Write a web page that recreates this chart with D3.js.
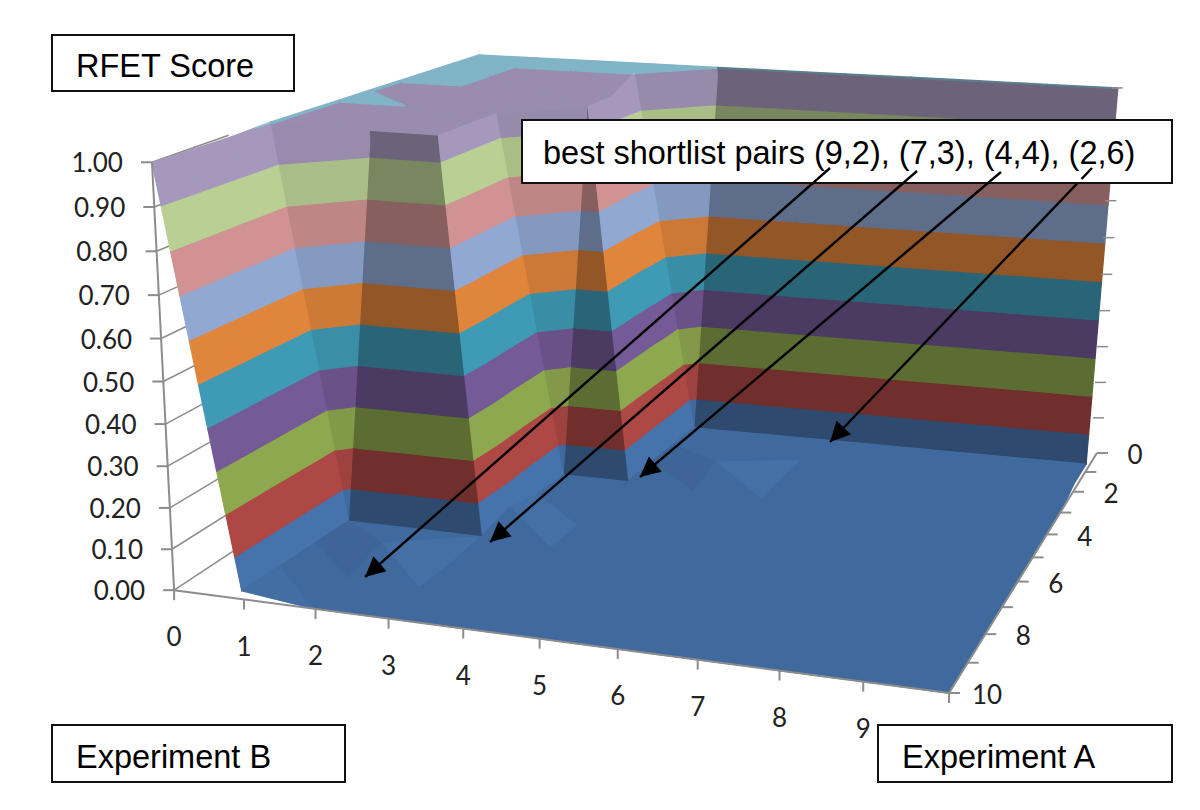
<!DOCTYPE html>
<html><head><meta charset="utf-8">
<script src="https://cdn.jsdelivr.net/npm/d3@7"></script>
<style>html,body{margin:0;padding:0;background:#fff}svg{display:block}</style>
</head><body><svg id="c" width="1200" height="810"></svg>
<script>
// ---------- data: RFET score, rows = Experiment A (0..10), columns = Experiment B (0..10)
const expB = [0,1,2,3,4,5,6,7,8,9,10];
const expA = [0,1,2,3,4,5,6,7,8,9,10];
const scores = [
 [1,1,1,1,1,1,1,1,1,1,1],
 [1,1,1,1,.02,.02,.02,.02,.02,.02,.02],
 [1,1,.96,.96,.02,.01,.01,.01,.01,.01,.02],
 [1,1,.96,.96,.02,.04,.01,.01,.01,.01,0],
 [1,.96,.96,.02,.02,.01,.01,.01,.01,.01,0],
 [1,1,.96,.02,.01,.01,.01,.01,.01,.01,0],
 [1,.96,.96,.04,.01,.01,.01,.01,.01,.01,0],
 [1,.02,.02,.02,.01,.01,.01,.01,.01,.01,0],
 [.995,.02,.04,.01,.01,.01,.01,.01,.01,.01,0],
 [.995,.02,.01,.01,.01,.01,.01,.01,.01,.01,0],
 [.995,.02,0,0,0,0,0,0,0,0,0]
];
const zTicks = [0,.1,.2,.3,.4,.5,.6,.7,.8,.9,1];
const bLabels = [0,1,2,3,4,5,6,7,8,9];
const aLabels = [0,2,4,6,8,10];
const bandEdges = [.1,.2,.3,.4,.5,.6,.7,.8,.9,.998];
const bandColors = ["#4673ab","#ad4845","#8da84f","#745a96","#3f9bb5","#e0853c","#90a8d2","#d09292","#b9cf94","#a698bd","#8bc4d7"];
const flipCells = [[2,7],[5,2]];
const boxes = [
 {t:"RFET Score",x:52,y:35,w:242,h:56,tx:76,ty:3},
 {t:"Experiment B",x:52,y:725,w:293,h:57,tx:76,ty:3},
 {t:"Experiment A",x:878,y:725,w:294,h:57,tx:902,ty:3},
 {t:"best shortlist pairs (9,2), (7,3), (4,4), (2,6)",x:522,y:120,w:650,h:63,tx:543,ty:1}
];
const arrows = [[830,168,365,577],[917,171,490,542],[1001,172,640,477],[1092,168,830,442]];

// ---------- cameras: one for the axes frame, one fitted to the surface
const uS = d3.scaleLinear().domain([0,10]).range([0,1]);
const vS = d3.scaleLinear().domain([0,10]).range([0,1]);
const zS = d3.scaleLinear().domain([0,1]).range([0,1]);
function axisProj(b,a,z){
  const u=uS(b),v=vS(a),t=zS(z),W=1.42-.12*u-.3*v-.054*t;
  return [(672+754*u-477*v-33*t)/W,(557+32*u+104*v-488*t)/W];
}
const w=(b,a,z)=>1.49-.15*uS(b)-.34*vS(a)-.055*zS(z);
function proj(b,a,z){
  const u=uS(b),v=vS(a),t=zS(z),W=w(b,a,z);
  return [(721+749*u-521*v-33.6*t)/W,
          (592.5+14.5*u+86*v+t*(-513.6+19.6*u+10.6*v))/W];
}
const svg=d3.select("#c");
const AX="#8c8c8c", FONT="Lato, 'Open Sans', sans-serif", BOXF="'Liberation Sans', Arial, sans-serif";
const line=d3.line();

// ---------- grid stubs behind the surface
const stub=zTicks.map(z=>[axisProj(0,10,z),axisProj(0,8,z)]);
svg.append("g").selectAll("path.grid").data(stub).join("path").attr("class","grid")
  .attr("d",d=>line(d)).attr("stroke",AX).attr("stroke-width",1.5).attr("fill","none");

// ---------- surface
function plane(t){
  const [p,q,r]=t;
  const a1=q[0]-p[0],b1=q[1]-p[1],c1=q[2]-p[2],a2=r[0]-p[0],b2=r[1]-p[1],c2=r[2]-p[2];
  const d=a1*b2-a2*b1;
  return [(c1*b2-c2*b1)/d,(a1*c2-a2*c1)/d];
}
function shade(t){
  const [db,da]=plane(t), mag=Math.hypot(db,da);
  const lit=mag>.1?Math.min(1,mag/.3):0;
  const frac=Math.max(0,-da)/(Math.abs(da)+Math.abs(db)+1e-6);
  const low=d3.max(t,p=>p[2])<.2;
  const bump=low&&Math.abs(db)>.015?Math.max(-.05,Math.min(.05,-db*2)):0;
  return (1-lit)*(.92+bump)+lit*(1-.35*frac*frac);
}
function clip(poly,lim,keepAbove){
  const out=[];
  const inside=p=>keepAbove?p[2]>=lim:p[2]<=lim;
  poly.forEach((p,i)=>{
    const q=poly[(i+1)%poly.length];
    if(inside(p))out.push(p);
    if(inside(p)!==inside(q)){
      const k=(lim-p[2])/(q[2]-p[2]);
      out.push([p[0]+k*(q[0]-p[0]),p[1]+k*(q[1]-p[1]),lim]);
    }
  });
  return out;
}
const tris=[];
const Z=(b,a)=>[b,a,scores[a][b]];
const isFlip=(b,a)=>{
  if(flipCells.some(c=>c[0]===b&&c[1]===a))return true;
  return scores[a+1][b+1]<.5&&scores[a][b]>.5&&scores[a][b+1]>.5&&scores[a+1][b]>.5;
};
expA.slice(0,-1).forEach(a=>expB.slice(0,-1).forEach(b=>{
  const A=Z(b,a),B=Z(b+1,a),C=Z(b,a+1),D=Z(b+1,a+1);
  if(isFlip(b,a)){tris.push([A,B,C],[B,D,C]);}
  else{tris.push([A,B,D],[A,D,C]);}
}));
tris.forEach(t=>{t.depth=d3.mean(t,p=>w(p[0],p[1],p[2]));t.s=shade(t);});
tris.sort((x,y)=>y.depth-x.depth);
const polys=[];
const lows=[-1].concat(bandEdges), highs=bandEdges.concat([2]);
tris.forEach(t=>{
  lows.forEach((lo,i)=>{
    const zs=t.map(p=>p[2]);
    if(d3.max(zs)<lo||d3.min(zs)>highs[i])return;
    let pg=clip(t,lo,true); if(pg.length<3)return;
    pg=clip(pg,highs[i],false); if(pg.length<3)return;
    const c=d3.rgb(bandColors[i]);
    const col=d3.rgb(Math.min(255,c.r*t.s),Math.min(255,c.g*t.s),Math.min(255,c.b*t.s)).formatHex();
    polys.push({d:line(pg.map(p=>proj(p[0],p[1],p[2])))+"Z",c:col});
  });
});
svg.append("g").selectAll("path").data(polys).join("path")
  .attr("d",d=>d.d).attr("fill",d=>d.c).attr("stroke",d=>d.c).attr("stroke-width",1.3).attr("stroke-linejoin","round");

// ---------- axes
const ax=svg.append("g").attr("stroke",AX).attr("stroke-width",2).attr("fill","none");
ax.append("path").attr("d",line([axisProj(0,10,0),axisProj(0,10,1)]));
ax.append("path").attr("d",line([axisProj(0,10,0),axisProj(10,10,0)]));
ax.append("path").attr("d",line([axisProj(10,10,0),axisProj(10,0,0)]));
ax.selectAll("path.zt").data(zTicks).join("path").attr("class","zt").attr("d",z=>{const p=axisProj(0,10,z);return line([[p[0]-11,p[1]],p]);});
ax.selectAll("path.zr").data(zTicks.slice(1)).join("path").attr("class","zr").attr("stroke-width",1.5).attr("d",z=>{const p=proj(10,0,z);return line([[p[0]-6,p[1]],[p[0]+5,p[1]]]);});
ax.selectAll("path.bt").data(expB).join("path").attr("class","bt").attr("d",b=>{const p=axisProj(b,10,0);return line([p,[p[0],p[1]+10]]);});
ax.selectAll("path.at").data(expA).join("path").attr("class","at").attr("d",a=>{const p=axisProj(10,a,0);return line([p,[p[0]+11,p[1]]]);});

const lab=svg.append("g").attr("font-family",FONT).attr("font-size",26).attr("fill","#222");
lab.selectAll("text.z").data(zTicks).join("text").attr("class","z")
  .attr("x",z=>axisProj(0,10,z)[0]-29).attr("y",z=>axisProj(0,10,z)[1]+1).attr("dy",".35em").attr("text-anchor","end").text(z=>d3.format(".2f")(z));
lab.selectAll("text.b").data(bLabels).join("text").attr("class","b")
  .attr("x",b=>axisProj(b,10,0)[0]).attr("y",b=>axisProj(b,10,0)[1]+47).attr("dy",".35em").attr("text-anchor","middle").text(b=>b);
lab.selectAll("text.a").data(aLabels).join("text").attr("class","a")
  .attr("x",a=>axisProj(10,a,0)[0]+38).attr("y",a=>axisProj(10,a,0)[1]+2).attr("dy",".35em").attr("text-anchor","middle").text(a=>a);

// ---------- arrows
const defs=svg.append("defs");
defs.append("marker").attr("id","ah").attr("viewBox","0 0 10 10").attr("refX",10).attr("refY",5)
  .attr("markerWidth",26).attr("markerHeight",20).attr("markerUnits","userSpaceOnUse").attr("orient","auto")
  .append("path").attr("d","M0,0L10,5L0,10Z").attr("fill","#000");
svg.append("g").selectAll("line").data(arrows).join("line")
  .attr("x1",d=>d[0]).attr("y1",d=>d[1]).attr("x2",d=>d[2]).attr("y2",d=>d[3])
  .attr("stroke","#000").attr("stroke-width",2.4).attr("marker-end","url(#ah)");

// ---------- boxes
const bx=svg.append("g").selectAll("g").data(boxes).join("g");
bx.append("rect").attr("x",d=>d.x).attr("y",d=>d.y).attr("width",d=>d.w).attr("height",d=>d.h)
  .attr("fill","#fff").attr("stroke","#111").attr("stroke-width",2);
bx.append("text").attr("x",d=>d.tx).attr("y",d=>d.y+d.h/2+d.ty).attr("dy",".35em")
  .attr("font-family",BOXF).attr("font-size",32.5).attr("fill","#000").text(d=>d.t);
// arrow tails begin inside the callout, just under its text
svg.append("g").selectAll("line").data(arrows).join("line")
  .attr("x1",d=>d[0]).attr("y1",d=>d[1]).attr("x2",d=>d[0]+(d[2]-d[0])*.04).attr("y2",d=>d[1]+(d[3]-d[1])*.04)
  .attr("stroke","#000").attr("stroke-width",2.4);
</script></body></html>
